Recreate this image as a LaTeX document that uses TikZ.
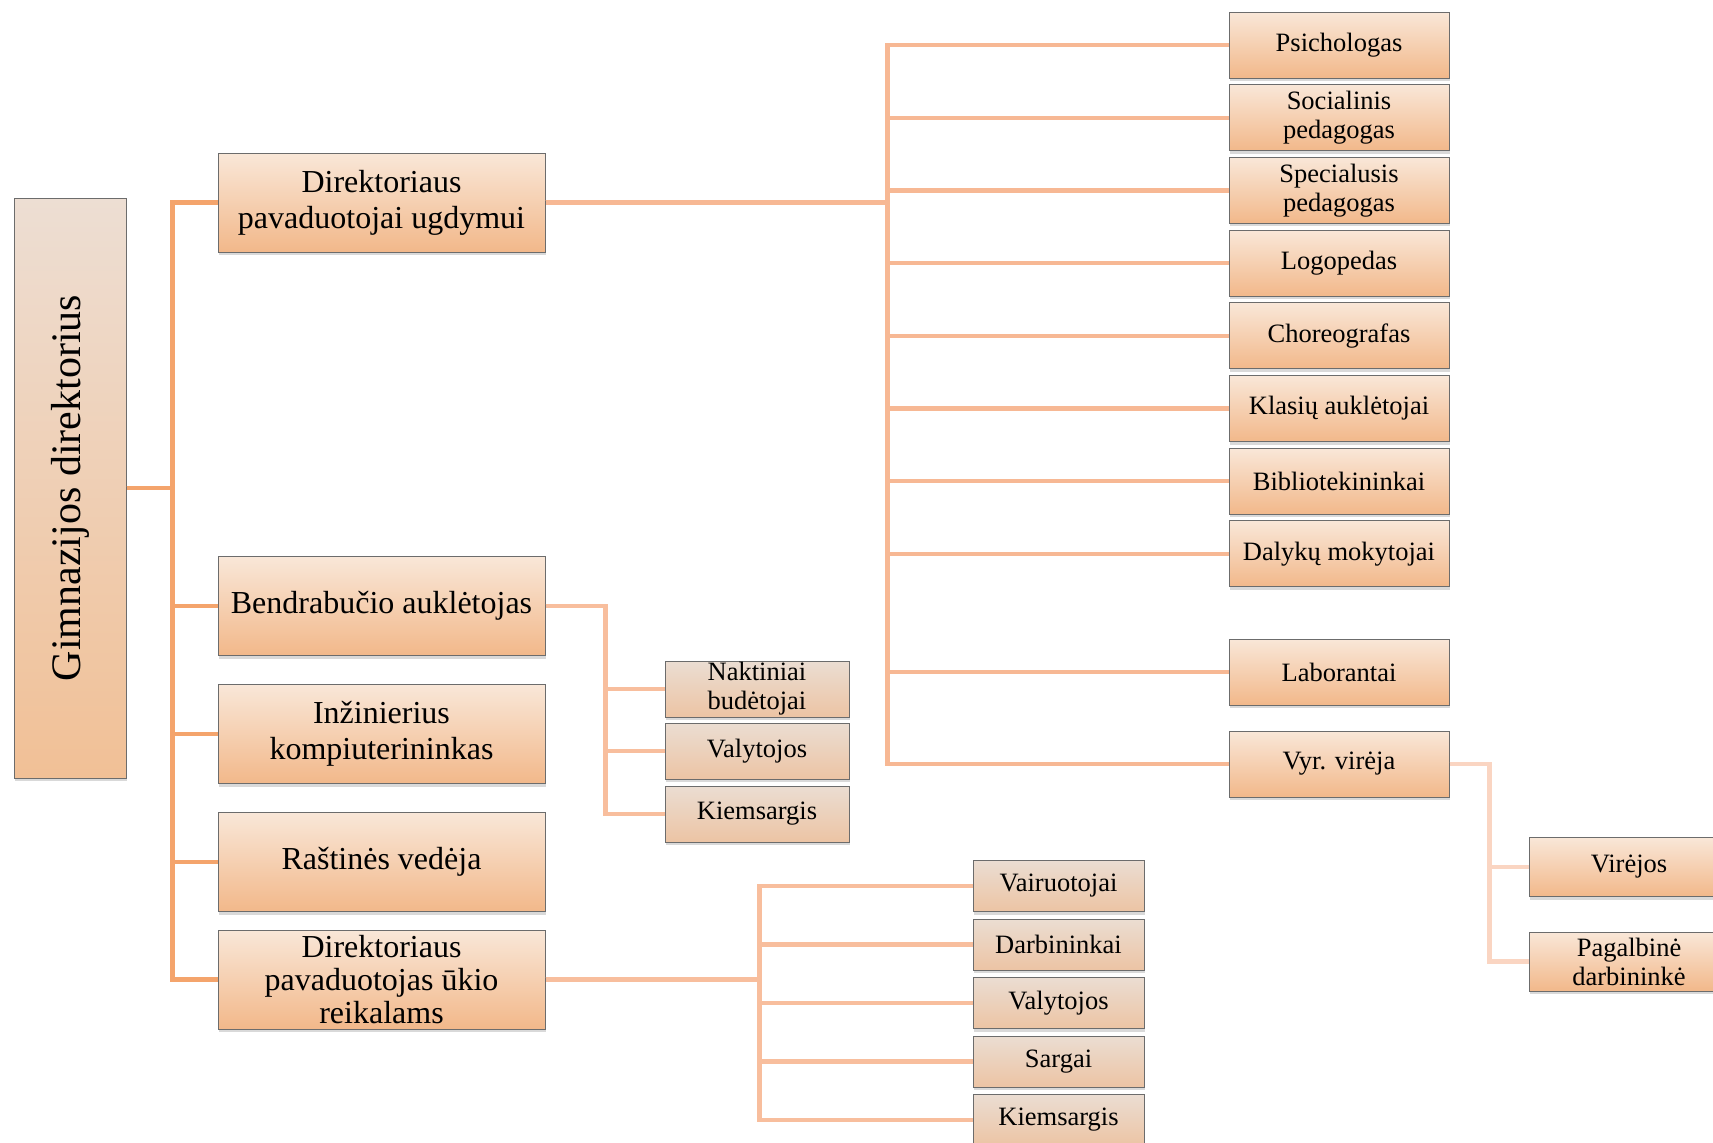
\documentclass[tikz,border=0pt]{standalone}
\usepackage{fontspec}
\setmainfont{Liberation Serif}
\usetikzlibrary{shadows}

\definecolor{boxtop}{RGB}{249,231,216}
\definecolor{boxbot}{RGB}{242,184,138}
\definecolor{roottop}{RGB}{237,222,211}
\definecolor{rootbot}{RGB}{241,192,150}
\definecolor{greytop}{RGB}{235,221,210}
\definecolor{greybot}{RGB}{236,196,164}
\definecolor{linkA}{RGB}{244,164,108}
\definecolor{linkB}{RGB}{247,184,148}
\definecolor{linkC}{RGB}{248,190,157}
\definecolor{linkD}{RGB}{250,213,194}

\tikzset{
	box/.style={draw=gray!85!black, line width=0.5pt, top color=boxtop, bottom color=boxbot, inner sep=0pt, align=center,
		drop shadow={shadow xshift=0.5pt, shadow yshift=-1.5pt, opacity=0.3}},
	chief/.style={box, top color=roottop, bottom color=rootbot, minimum width=56pt, minimum height=290pt, font=\fontsize{21}{24}\selectfont},
	deputy/.style={box, minimum width=163.5pt, minimum height=49.5pt, font=\fontsize{16}{18}\selectfont},
	staff/.style={box, minimum width=110pt, minimum height=33pt, font=\fontsize{13.25}{14.5}\selectfont},
	dorm/.style={box, top color=greytop, bottom color=greybot, minimum width=92pt, minimum height=28pt, font=\fontsize{13.25}{14.5}\selectfont},
	yard/.style={box, top color=greytop, bottom color=greybot, minimum width=85.5pt, minimum height=25.5pt, font=\fontsize{13.25}{14.5}\selectfont},
	cook/.style={box, minimum width=100pt, minimum height=29.5pt, font=\fontsize{13.25}{14.5}\selectfont},
	link/.style={line width=2.2pt}
}

\begin{document}
\begin{tikzpicture}[x=0.5pt, y=-0.5pt]
			\clip (0,0) rectangle (1713,1142);
			% vadovai
			\node[chief] (Dir) at (70,488) {\rotatebox{90}{Gimnazijos direktorius}};
			\node[deputy] (DirUgd) at (381.5,202.5) {Direktoriaus\\pavaduotojai ugdymui};
			\node[deputy] (Bendr) at (381.5,606) {Bendrabučio auklėtojas};
			\node[deputy] (Inz) at (381.5,734) {Inžinierius\\kompiuterininkas};
			\node[deputy] (Rast) at (381.5,862) {Raštinės vedėja};
			\node[deputy, font=\fontsize{16}{16.5}\selectfont] (DirUkio) at (381.5,979.5) {Direktoriaus\\pavaduotojas ūkio\\reikalams};
			\draw[link, linkA] (Dir.east) -- ++(46,0) |- (DirUgd.west);
			\draw[link, linkA] (Dir.east) -- ++(46,0) |- (Bendr.west);
			\draw[link, linkA] (Dir.east) -- ++(46,0) |- (Inz.west);
			\draw[link, linkA] (Dir.east) -- ++(46,0) |- (Rast.west);
			\draw[link, linkA] (Dir.east) -- ++(46,0) |- (DirUkio.west);
			% ugdymas
			\node[staff] (Psich) at (1339,45) {Psichologas};
			\node[staff] (SocPed) at (1339,117.7) {Socialinis\\pedagogas};
			\node[staff] (SpecPed) at (1339,190.4) {Specialusis\\pedagogas};
			\node[staff] (Logo) at (1339,263.1) {Logopedas};
			\node[staff] (Chor) at (1339,335.8) {Choreografas};
			\node[staff] (Klas) at (1339,408.5) {Klasių auklėtojai};
			\node[staff] (Bibl) at (1339,481.2) {Bibliotekininkai};
			\node[staff] (Mok) at (1339,553.9) {Dalykų mokytojai};
			\node[staff] (Lab) at (1339,672) {Laborantai};
			\node[staff] (VyrVir) at (1339,764) {Vyr. virėja};
			\draw[link, linkB] (DirUgd.east) -- ++(342,0) |- (Psich.west);
			\draw[link, linkB] (DirUgd.east) -- ++(342,0) |- (SocPed.west);
			\draw[link, linkB] (DirUgd.east) -- ++(342,0) |- (SpecPed.west);
			\draw[link, linkB] (DirUgd.east) -- ++(342,0) |- (Logo.west);
			\draw[link, linkB] (DirUgd.east) -- ++(342,0) |- (Chor.west);
			\draw[link, linkB] (DirUgd.east) -- ++(342,0) |- (Klas.west);
			\draw[link, linkB] (DirUgd.east) -- ++(342,0) |- (Bibl.west);
			\draw[link, linkB] (DirUgd.east) -- ++(342,0) |- (Mok.west);
			\draw[link, linkB] (DirUgd.east) -- ++(342,0) |- (Lab.west);
			\draw[link, linkB] (DirUgd.east) -- ++(342,0) |- (VyrVir.west);
			% virtuve
			\node[cook] (Vir) at (1629,867) {Virėjos};
			\node[cook] (PagDarb) at (1629,961.5) {Pagalbinė\\darbininkė};
			\draw[link, linkD] (VyrVir.east) -- ++(40,0) |- (Vir.west);
			\draw[link, linkD] (VyrVir.east) -- ++(40,0) |- (PagDarb.west);
			% bendrabutis
			\node[dorm] (Nakt) at (757,689) {Naktiniai\\budėtojai};
			\node[dorm] (Valyt) at (757,751) {Valytojos};
			\node[dorm] (Kiem) at (757,814) {Kiemsargis};
			\draw[link, linkC] (Bendr.east) -- ++(60,0) |- (Nakt.west);
			\draw[link, linkC] (Bendr.east) -- ++(60,0) |- (Valyt.west);
			\draw[link, linkC] (Bendr.east) -- ++(60,0) |- (Kiem.west);
			% ukis
			\node[yard] (Vair) at (1058.5,886) {Vairuotojai};
			\node[yard] (Darb) at (1058.5,944.5) {Darbininkai};
			\node[yard] (Valyt2) at (1058.5,1003) {Valytojos};
			\node[yard] (Sarg) at (1058.5,1061.5) {Sargai};
			\node[yard] (Kiem2) at (1058.5,1120) {Kiemsargis};
			\draw[link, linkC] (DirUkio.east) -- ++(214,0) |- (Vair.west);
			\draw[link, linkC] (DirUkio.east) -- ++(214,0) |- (Darb.west);
			\draw[link, linkC] (DirUkio.east) -- ++(214,0) |- (Valyt2.west);
			\draw[link, linkC] (DirUkio.east) -- ++(214,0) |- (Sarg.west);
			\draw[link, linkC] (DirUkio.east) -- ++(214,0) |- (Kiem2.west);
		\end{tikzpicture}
\end{document}
